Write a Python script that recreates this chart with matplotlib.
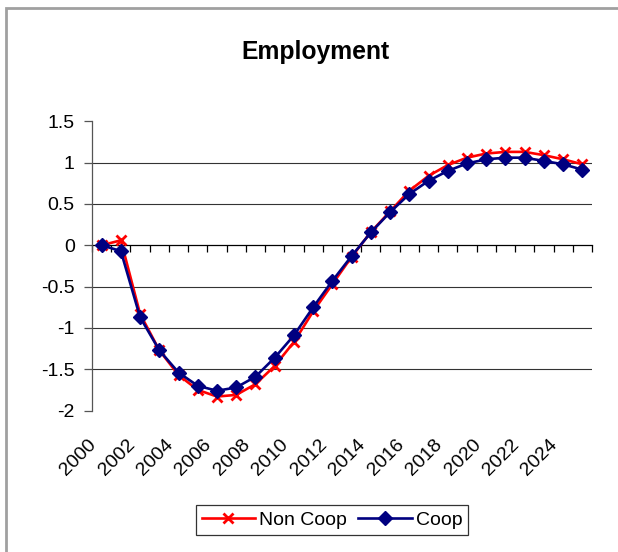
import matplotlib
matplotlib.use("Agg")
import matplotlib.pyplot as plt
import matplotlib.transforms as mtransforms
from matplotlib.patches import Rectangle

plt.rcParams['font.family'] = ['Liberation Sans', 'DejaVu Sans']

# values
years = list(range(2000, 2026))
non_coop = [0, 0.06, -0.83, -1.27, -1.57, -1.75, -1.83, -1.81, -1.68, -1.46,
            -1.17, -0.80, -0.47, -0.14, 0.16, 0.41, 0.66, 0.84, 0.97, 1.06,
            1.11, 1.13, 1.13, 1.09, 1.04, 0.98]
coop = [0, -0.07, -0.87, -1.27, -1.54, -1.70, -1.76, -1.72, -1.59, -1.36,
        -1.09, -0.75, -0.43, -0.13, 0.155, 0.40, 0.62, 0.78, 0.90, 0.99,
        1.04, 1.06, 1.06, 1.02, 0.98, 0.915]
y_ticks = [-2, -1.5, -1, -0.5, 0, 0.5, 1, 1.5]
y_labels = ['-2', '-1.5', '-1', '-0.5', '0', '0.5', '1', '1.5']

W, H = 618, 552
fs = 14
fig = plt.figure(figsize=(W / 100, H / 100), dpi=100)

# grey chart-area border (Excel style)
fig.patches.append(Rectangle((6 / W, -0.1), 1.1, 1.1 - 8 / H, transform=fig.transFigure,
                             fill=False, edgecolor='#a0a0a0', linewidth=2.0))

ax = fig.add_axes([92 / W, 1 - 410.6 / H, 500 / W, (410.6 - 121.3) / H])

x = [i + 0.5 for i in range(len(years))]
ax.plot(x, non_coop, color='#ff0000', lw=1.9, marker='x', ms=7, mew=2,
        label='Non Coop', zorder=3)
ax.plot(x, coop, color='#000080', lw=1.9, marker='D', ms=7.5,
        label='Coop', zorder=4)

ax.set_xlim(0, len(years))
ax.set_ylim(-2, 1.5)

# gridlines (none at top)
for yv in y_ticks[1:-1]:
    if yv != 0:
        ax.axhline(yv, color='#333333', lw=0.8, zorder=1)

ax.spines['top'].set_visible(False)
ax.spines['right'].set_visible(False)
ax.spines['left'].set_color('#555555')
ax.spines['left'].set_linewidth(0.9)
ax.spines['bottom'].set_position(('data', 0))
ax.spines['bottom'].set_color('black')
ax.spines['bottom'].set_linewidth(0.9)
ax.spines['bottom'].set_zorder(2)

ax.set_yticks(y_ticks)
ax.set_yticklabels(y_labels)
ax.tick_params(axis='y', direction='out', length=6, width=0.9, color='#555555',
               labelsize=fs, pad=6.5)

ax.set_xticks(range(len(years) + 1))
ax.set_xticklabels([])
ax.tick_params(axis='x', direction='out', length=5, width=0.9, color='black')

# rotated year labels every second category, below the plot area
trans = mtransforms.blended_transform_factory(ax.transData, ax.transAxes)
trans = trans + mtransforms.ScaledTranslation(-14 / 100, -25 / 100, fig.dpi_scale_trans)
for i in range(0, len(years), 2):
    ax.text(x[i], 0, str(years[i]), transform=trans, rotation=45,
            rotation_mode='anchor', ha='right', va='top', fontsize=fs)

fig.text(315 / W, 1 - 52 / H, 'Employment', ha='center', va='center',
         fontsize=17.8, fontweight='bold')

leg = fig.legend(loc='center', bbox_to_anchor=(332 / W, 1 - 520 / H), ncol=2,
                 fontsize=fs, frameon=True, fancybox=False, edgecolor='black',
                 handlelength=2.75, handletextpad=0.2, columnspacing=0.6,
                 borderpad=0.3, borderaxespad=0)
leg.get_frame().set_linewidth(0.9)

fig.savefig('out.png', dpi=100)
